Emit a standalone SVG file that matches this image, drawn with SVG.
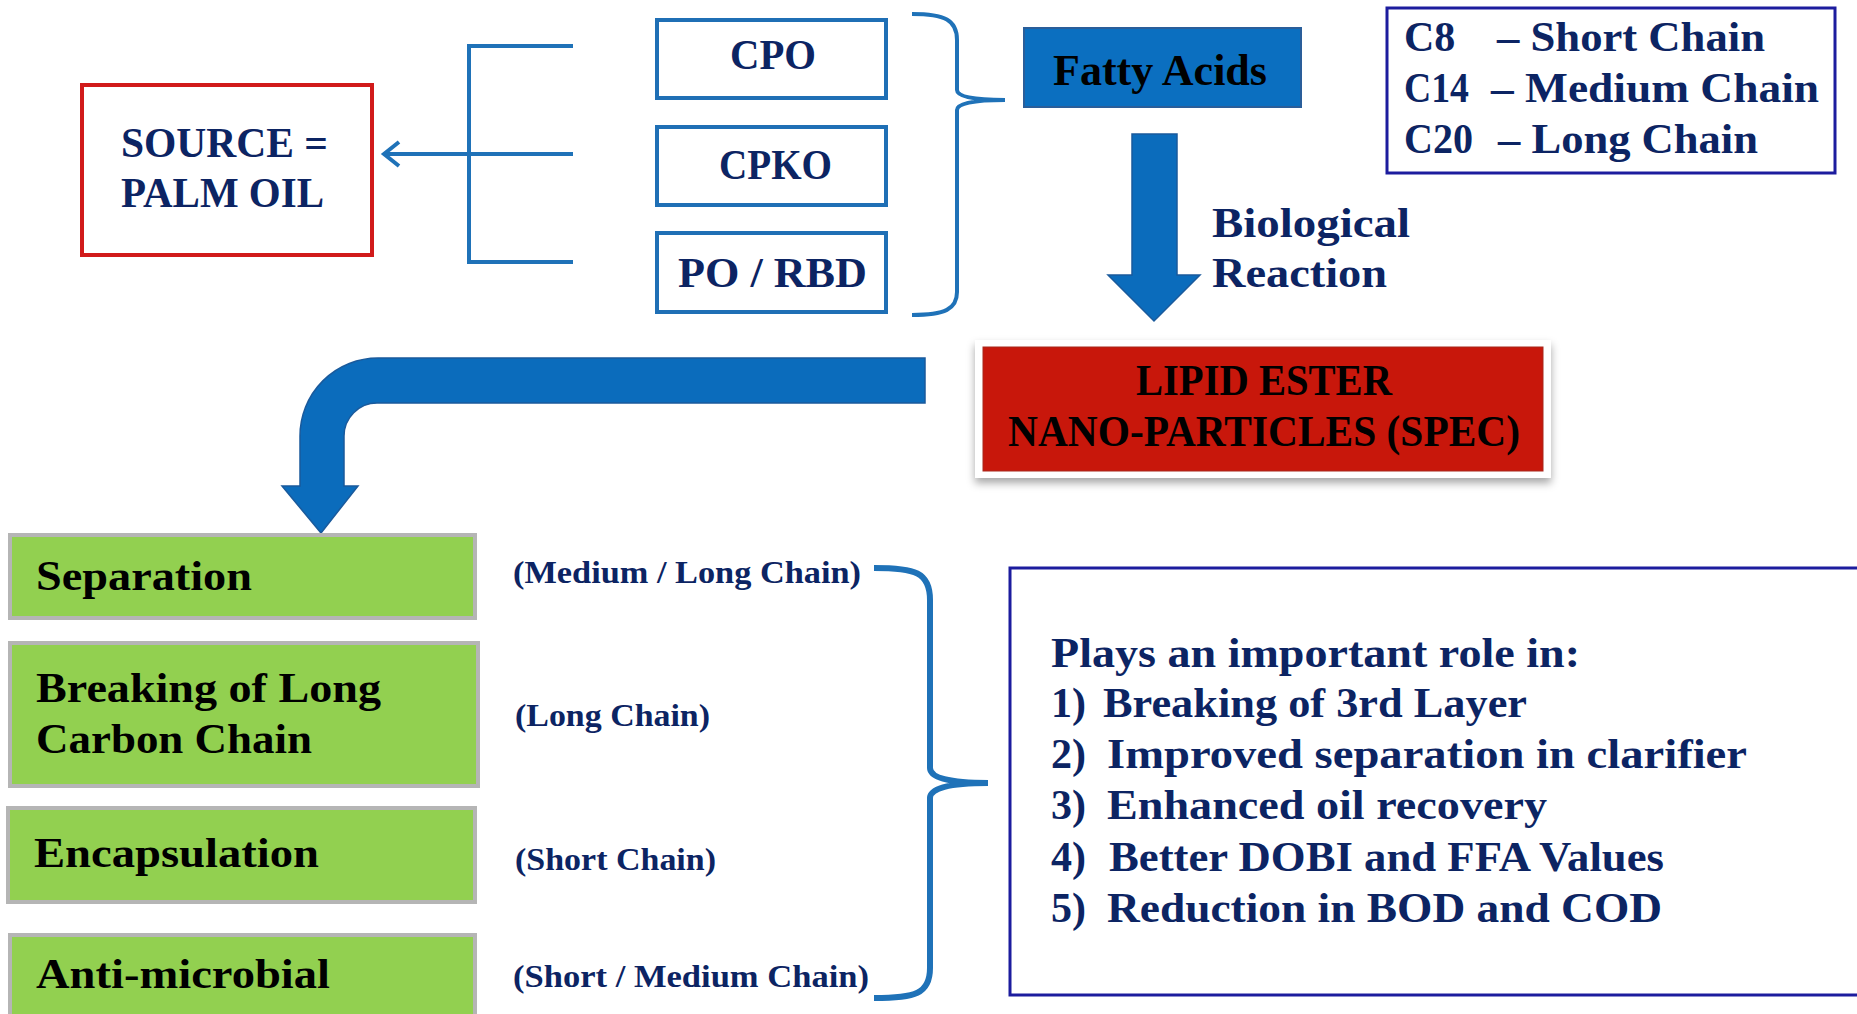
<svg xmlns="http://www.w3.org/2000/svg" width="1857" height="1014" viewBox="0 0 1857 1014">
  <defs>
    <style>
      text { font-family: "Liberation Serif", "DejaVu Serif", serif; font-weight: bold; }
      .navy { fill: #0c2463; }
      .blk { fill: #000000; }
      .f42 { font-size: 42px; }
      .f44 { font-size: 44px; }
      .f32 { font-size: 32px; }
      .line { fill: none; stroke: #1f72b8; stroke-width: 4; }
      .oilbox { fill: #ffffff; stroke: #1f6fb5; stroke-width: 4; }
      .green { fill: #92d050; stroke: #b5b5b5; stroke-width: 4; }
      .framed { fill: #ffffff; stroke: #1c1c9e; stroke-width: 3; }
      .bigarrow { fill: #0b6cbc; stroke: #1a5a9c; stroke-width: 1.5; }
    </style>
    <filter id="shadow" x="-5%" y="-10%" width="110%" height="130%">
      <feDropShadow dx="0" dy="5" stdDeviation="4" flood-color="#000000" flood-opacity="0.35"/>
    </filter>
  </defs>

  <rect width="1857" height="1014" fill="#ffffff"/>

  <!-- connectors -->
  <g id="connectors">
    <!-- bracket from the three oils to the source box -->
    <path class="line" d="M573 46 H469 V262 H573"/>
    <path class="line" d="M573 154 H385"/>
    <path class="line" d="M399 142 L384 154 L399 166"/>
    <!-- brace gathering the oils into fatty acids -->
    <path class="line" d="M912 14 C945 14 957 20 957 40 L957 90 Q957 100 1005 100 Q957 100 957 110 L957 292 C957 309 945 315 912 315"/>
    <!-- fatty acids down to the ester -->
    <path class="bigarrow" d="M1132 134 H1177 V275 H1200 L1154 321 L1108 275 H1132 Z"/>
    <!-- bent arrow from the ester to the applications -->
    <path class="bigarrow" d="M925 358 L378 358 A78 78 0 0 0 300 436 L300 486 L282 486 L321 533 L358 486 L344 486 L344 436 A33 33 0 0 1 377 403 L925 403 Z"/>
    <!-- brace gathering the applications into the roles box -->
    <path fill="none" stroke="#1f72b8" stroke-width="6" d="M874 568 C915 568 930 572 930 600 L930 768 Q930 783 988 783 Q930 783 930 798 L930 968 C930 994 915 998 874 998"/>
  </g>

  <!-- source -->
  <g id="source">
    <rect x="82" y="85" width="290" height="170" fill="#ffffff" stroke="#d11a1a" stroke-width="4"/>
    <text class="navy f42" x="121" y="157" textLength="207" lengthAdjust="spacingAndGlyphs">SOURCE =</text>
    <text class="navy f42" x="121" y="207" textLength="203" lengthAdjust="spacingAndGlyphs">PALM OIL</text>
  </g>

  <!-- oils -->
  <g id="cpo">
    <rect class="oilbox" x="657" y="20" width="229" height="78"/>
    <text class="navy f42" x="730" y="69" textLength="86" lengthAdjust="spacingAndGlyphs">CPO</text>
  </g>
  <g id="cpko">
    <rect class="oilbox" x="657" y="127" width="229" height="78"/>
    <text class="navy f42" x="719" y="179" textLength="113" lengthAdjust="spacingAndGlyphs">CPKO</text>
  </g>
  <g id="po-rbd">
    <rect class="oilbox" x="657" y="233" width="229" height="79"/>
    <text class="navy f42" x="678" y="287" textLength="189" lengthAdjust="spacingAndGlyphs">PO / RBD</text>
  </g>

  <!-- fatty acids -->
  <g id="fatty-acids">
    <rect x="1024" y="28" width="277" height="79" fill="#0b6fc0" stroke="#2a5e9a" stroke-width="2"/>
    <text class="blk f44" x="1053" y="85" textLength="214" lengthAdjust="spacingAndGlyphs">Fatty Acids</text>
  </g>

  <!-- chain length legend -->
  <g id="chain-legend">
    <rect class="framed" x="1387" y="8" width="448" height="165"/>
    <text class="navy f42" x="1404" y="51">C8</text>
    <text class="navy f42" x="1497" y="51" textLength="268" lengthAdjust="spacingAndGlyphs">– Short Chain</text>
    <text class="navy f42" x="1404" y="102" textLength="65" lengthAdjust="spacingAndGlyphs">C14</text>
    <text class="navy f42" x="1491" y="102" textLength="328" lengthAdjust="spacingAndGlyphs">– Medium Chain</text>
    <text class="navy f42" x="1404" y="153" textLength="69" lengthAdjust="spacingAndGlyphs">C20</text>
    <text class="navy f42" x="1498" y="153" textLength="260" lengthAdjust="spacingAndGlyphs">– Long Chain</text>
  </g>

  <!-- reaction label -->
  <g id="reaction-label">
    <text class="navy f42" x="1212" y="237" textLength="198" lengthAdjust="spacingAndGlyphs">Biological</text>
    <text class="navy f42" x="1212" y="287" textLength="175" lengthAdjust="spacingAndGlyphs">Reaction</text>
  </g>

  <!-- lipid ester -->
  <g id="lipid-ester">
    <rect x="975" y="340" width="576" height="138" fill="#ffffff" filter="url(#shadow)"/>
    <rect x="983" y="347" width="560" height="124" fill="#c8170b" stroke="#a8281c" stroke-width="1"/>
    <text class="blk f44" x="1136" y="395" textLength="256" lengthAdjust="spacingAndGlyphs">LIPID ESTER</text>
    <text class="blk f44" x="1008" y="446" textLength="512" lengthAdjust="spacingAndGlyphs">NANO-PARTICLES (SPEC)</text>
  </g>

  <!-- applications -->
  <g id="separation">
    <rect class="green" x="10" y="535" width="465" height="83"/>
    <text class="blk f42" x="36" y="590" textLength="216" lengthAdjust="spacingAndGlyphs">Separation</text>
    <text class="navy f32" x="513" y="583" textLength="348" lengthAdjust="spacingAndGlyphs">(Medium / Long Chain)</text>
  </g>
  <g id="breaking">
    <rect class="green" x="10" y="643" width="468" height="143"/>
    <text class="blk f42" x="36" y="702" textLength="345" lengthAdjust="spacingAndGlyphs">Breaking of Long</text>
    <text class="blk f42" x="36" y="753" textLength="276" lengthAdjust="spacingAndGlyphs">Carbon Chain</text>
    <text class="navy f32" x="515" y="726" textLength="195" lengthAdjust="spacingAndGlyphs">(Long Chain)</text>
  </g>
  <g id="encapsulation">
    <rect class="green" x="8" y="808" width="467" height="94"/>
    <text class="blk f42" x="34" y="867" textLength="285" lengthAdjust="spacingAndGlyphs">Encapsulation</text>
    <text class="navy f32" x="515" y="870" textLength="201" lengthAdjust="spacingAndGlyphs">(Short Chain)</text>
  </g>
  <g id="anti-microbial">
    <rect class="green" x="10" y="935" width="465" height="90"/>
    <text class="blk f42" x="36" y="988" textLength="294" lengthAdjust="spacingAndGlyphs">Anti-microbial</text>
    <text class="navy f32" x="513" y="987" textLength="356" lengthAdjust="spacingAndGlyphs">(Short / Medium Chain)</text>
  </g>

  <!-- roles -->
  <g id="roles">
    <rect class="framed" x="1010" y="568" width="860" height="427"/>
    <text class="navy f42" x="1051" y="667" textLength="529" lengthAdjust="spacingAndGlyphs">Plays an important role in:</text>
    <text class="navy f42" x="1051" y="717">1)</text>
    <text class="navy f42" x="1103" y="717" textLength="424" lengthAdjust="spacingAndGlyphs">Breaking of 3rd Layer</text>
    <text class="navy f42" x="1051" y="768">2)</text>
    <text class="navy f42" x="1107" y="768" textLength="640" lengthAdjust="spacingAndGlyphs">Improved separation in clarifier</text>
    <text class="navy f42" x="1051" y="819">3)</text>
    <text class="navy f42" x="1107" y="819" textLength="440" lengthAdjust="spacingAndGlyphs">Enhanced oil recovery</text>
    <text class="navy f42" x="1051" y="871">4)</text>
    <text class="navy f42" x="1109" y="871" textLength="555" lengthAdjust="spacingAndGlyphs">Better DOBI and FFA Values</text>
    <text class="navy f42" x="1051" y="922">5)</text>
    <text class="navy f42" x="1107" y="922" textLength="555" lengthAdjust="spacingAndGlyphs">Reduction in BOD and COD</text>
  </g>
</svg>
